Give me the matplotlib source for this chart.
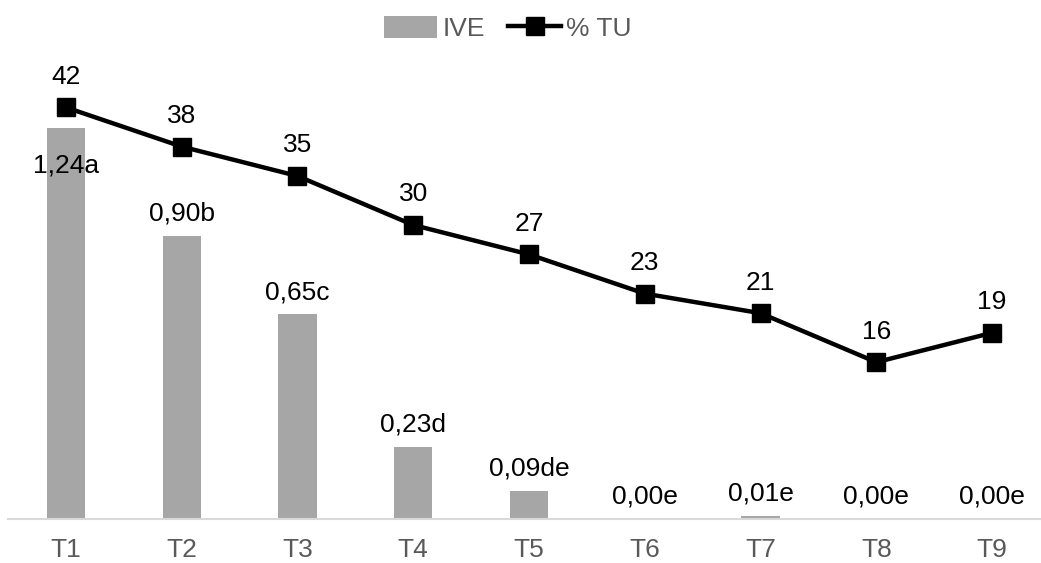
import matplotlib
import numpy as np

matplotlib.use("Agg")
import matplotlib.pyplot as plt

plt.rcParams["font.family"] = ["Liberation Sans", "DejaVu Sans"]

tratamientos = ["T1", "T2", "T3", "T4", "T5", "T6", "T7", "T8", "T9"]
ive = [1.24, 0.90, 0.65, 0.23, 0.09, 0.00, 0.01, 0.00, 0.00]
letras = ["a", "b", "c", "d", "de", "e", "e", "e", "e"]
tu = [42, 38, 35, 30, 27, 23, 21, 16, 19]

GRIS = "#a6a6a6"
TEXTO = "#595959"
FS = 19

fig = plt.figure(figsize=(10.41, 5.63), dpi=100)
ax = fig.add_axes([8 / 1041, 44 / 563, 1042 / 1041, 441 / 563])
x = np.arange(len(tratamientos))

barras = ax.bar(x, ive, width=0.33, color=GRIS, label="IVE", zorder=2)
ax.set_ylim(0, 1.4)
ax.set_xlim(-0.5, len(x) - 0.5)
ax.set_xticks(x, tratamientos, fontsize=FS, color=TEXTO)
ax.tick_params(axis="x", length=0, pad=14)
ax.set_yticks([])
for lado in ["top", "left", "right"]:
    ax.spines[lado].set_visible(False)
ax.spines["bottom"].set_color("#d9d9d9")
ax.spines["bottom"].set_linewidth(1.5)

# etiquetas de las barras (la de T1 va dentro de la barra)
for xi, v, l in zip(x, ive, letras):
    txt = f"{v:.2f}".replace(".", ",") + l
    dy = -27 if xi == 0 else 16
    ax.annotate(txt, (xi, v), xytext=(0, dy), textcoords="offset points",
                ha="center", va="center", fontsize=FS, color="black", zorder=5)

ax2 = ax.twinx()
linea, = ax2.plot(x, tu, color="black", lw=3.2, marker="s", markersize=13.5,
                  label="% TU", zorder=3)
ax2.set_ylim(0, 45)
ax2.set_yticks([])
for lado in ["top", "left", "right", "bottom"]:
    ax2.spines[lado].set_visible(False)
for xi, v in zip(x, tu):
    ax2.annotate(str(v), (xi, v), xytext=(0, 22), textcoords="offset points",
                 ha="center", va="center", fontsize=FS, color="black")

fig.legend([barras, linea], ["IVE", "% TU"], loc="center", bbox_to_anchor=(0.488, 0.95),
           ncol=2, frameon=False, fontsize=FS, labelcolor=TEXTO,
           handlelength=2.0, handleheight=0.9, handletextpad=0.2, columnspacing=0.9)

fig.savefig("out.png")
